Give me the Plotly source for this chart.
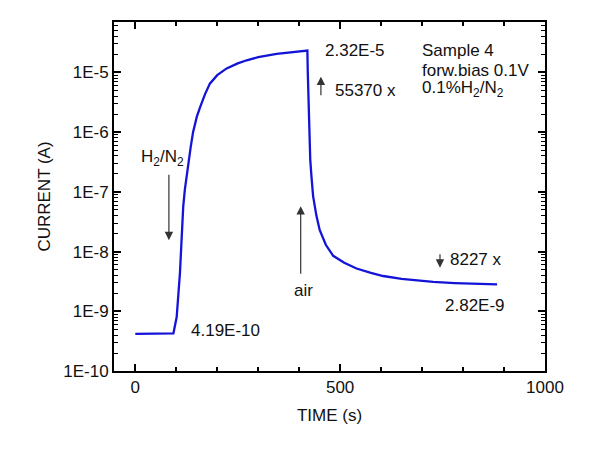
import plotly.graph_objects as go

# ── data ─────────────────────────────────────────────────────────────
time_s = [0, 20, 40, 60, 80, 93, 101, 105, 109, 113, 117, 121, 125, 129,
          135, 141, 150, 158, 170, 182, 200, 223, 250, 272, 300, 345, 380,
          420, 421, 423, 425, 427, 430, 434, 442, 450, 465, 483, 510, 540,
          575, 605, 650, 700, 727, 780, 830, 883]
current_a = [4.2e-10, 4.2e-10, 4.15e-10, 4.15e-10, 4.19e-10, 4.25e-10,
             8e-10, 1.8e-9, 4.4e-9, 1.6e-8, 5.7e-8, 1.1e-7, 1.8e-7, 2.7e-7,
             5.5e-7, 1.0e-6, 1.8e-6, 2.6e-6, 4.3e-6, 6.5e-6, 9.0e-6, 1.17e-5,
             1.42e-5, 1.6e-5, 1.8e-5, 2.05e-5, 2.2e-5, 2.32e-5, 1.0e-5,
             2.5e-6, 8e-7, 3.5e-7, 1.8e-7, 8.5e-8, 4e-8, 2.3e-8, 1.3e-8,
             8.5e-9, 6.5e-9, 5.2e-9, 4.4e-9, 3.9e-9, 3.5e-9, 3.2e-9, 3.1e-9,
             2.97e-9, 2.9e-9, 2.82e-9]

y_tickvals = [1e-10, 1e-9, 1e-8, 1e-7, 1e-6, 1e-5]
y_ticktext = ["1E-10", "1E-9", "1E-8", "1E-7", "1E-6", "1E-5"]

FONT = "Liberation Sans, Arial, sans-serif"
BLUE = "#1414d8"
INK = "#111111"
X_RANGE = [-52, 1000]
Y_RANGE = [-10, -4.155]

fig = go.Figure()
fig.add_trace(go.Scatter(
    x=time_s, y=current_a, mode="lines",
    line=dict(color=BLUE, width=2.3), hoverinfo="x+y",
))
# same data on mirrored axes, invisible -> only to get top/right ticks
fig.add_trace(go.Scatter(
    x=time_s, y=current_a, mode="lines", xaxis="x2", yaxis="y2",
    line=dict(color="rgba(0,0,0,0)", width=0), hoverinfo="skip",
))

tick_common = dict(
    ticks="inside", ticklen=7, tickwidth=1.5, tickcolor="black",
    showgrid=False, zeroline=False,
    tickfont=dict(family=FONT, size=17, color=INK),
)
x_minor = dict(dtick=100, ticks="inside", ticklen=4, tickcolor="black", tickwidth=1.5)
y_minor = dict(dtick="D1", ticks="inside", ticklen=4, tickcolor="black", tickwidth=1)

fig.update_layout(
    width=600, height=458,
    paper_bgcolor="white", plot_bgcolor="white",
    margin=dict(l=106, r=63, t=14, b=95),
    showlegend=False,
    font=dict(family=FONT, size=17, color=INK),
    xaxis=dict(**tick_common, range=X_RANGE, tickvals=[0, 500, 1000],
               showline=True, linecolor="black", linewidth=2, mirror=True,
               minor=x_minor,
               title=dict(text="TIME (s)", font=dict(family=FONT, size=17, color=INK),
                          standoff=13)),
    yaxis=dict(**tick_common, type="log", range=Y_RANGE,
               tickvals=y_tickvals, ticktext=y_ticktext,
               showline=True, linecolor="black", linewidth=2, mirror=True,
               minor=y_minor,
               title=dict(text="CURRENT (A)", font=dict(family=FONT, size=17, color=INK),
                          standoff=8)),
    xaxis2=dict(**tick_common, range=X_RANGE, tickvals=[0, 500, 1000],
                overlaying="x", side="top", showticklabels=False, minor=x_minor),
    yaxis2=dict(**tick_common, type="log", range=Y_RANGE, tickvals=y_tickvals,
                overlaying="y", side="right", showticklabels=False, minor=y_minor),
)

def note(text, x, y, anchor="left"):
    fig.add_annotation(x=x, y=y, text=text, showarrow=False, xanchor=anchor,
                       yanchor="middle", font=dict(family=FONT, size=17, color=INK))

def arrow(x, y, ay):
    fig.add_annotation(x=x, y=y, ax=0, ay=ay, text="", showarrow=True,
                       arrowhead=2, arrowsize=1.4, arrowwidth=1.2,
                       arrowcolor="#333333")

note("H<sub>2</sub>/N<sub>2</sub>", 65.5, -6.44, "center")
arrow(82, -7.81, -67)
note("4.19E-10", 132, -9.32)
note("air", 410.5, -8.66, "center")
arrow(403.7, -7.24, 69)
note("2.32E-5", 458, -4.63)
arrow(453, -5.07, 20)
note("55370 x", 483, -5.30)
note("Sample 4", 695, -4.63)
note("forw.bias 0.1V", 695, -4.96)
note("0.1%H<sub>2</sub>/N<sub>2</sub>", 695, -5.28)
arrow(743.7, -8.27, -15)
note("8227 x", 764, -8.14)
note("2.82E-9", 750, -8.90)

fig.write_html("out.html")
